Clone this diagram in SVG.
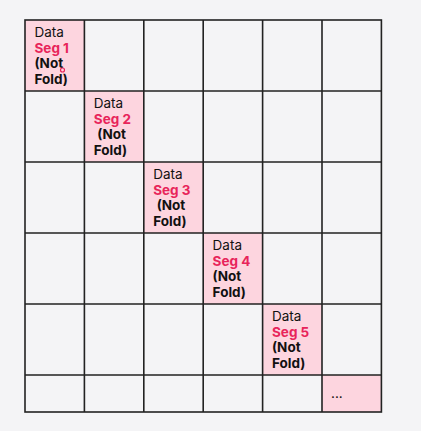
<svg xmlns="http://www.w3.org/2000/svg" width="421" height="431" viewBox="0 0 421 431">
<style>
.bg{fill:#f4f4f6}
.pink{fill:#fdd5df}
.t{font-family:Inter,"Liberation Sans",sans-serif;font-size:13.5px;fill:#111}
.r{font-weight:bold;fill:#e8245a}
.b{font-weight:bold}
.grid{stroke:#222;stroke-width:1.6;fill:none}
</style>
<rect class="bg" x="0" y="0" width="421" height="431"/>
<g id="cells">
<rect id="c1" class="pink" x="25" y="20" width="59.4" height="71"/>
<rect id="c2" class="pink" x="84.4" y="91" width="59.4" height="71"/>
<rect id="c3" class="pink" x="143.8" y="162" width="59.4" height="71"/>
<rect id="c4" class="pink" x="203.2" y="233" width="59.4" height="71"/>
<rect id="c5" class="pink" x="262.6" y="304" width="59.4" height="71"/>
<rect id="c6" class="pink" x="322" y="375" width="59.4" height="37"/>
</g>
<g id="grid" class="grid">
<rect x="25" y="20" width="356.4" height="392"/>
<path d="M84.4 20V412M143.8 20V412M203.2 20V412M262.6 20V412M322 20V412M25 91H381.4M25 162H381.4M25 233H381.4M25 304H381.4M25 375H381.4"/>
</g>
<g id="seg1" class="t">
<text x="34.5" y="37">Data</text>
<text x="34.5" y="52.5" class="r">Seg 1</text>
<text x="34.5" y="68" class="b">(Not</text>
<text x="34.5" y="83.5" class="b">Fold)</text>
</g>
<g id="seg2" class="t">
<text x="93.8" y="108">Data</text>
<text x="93.8" y="123.5" class="r">Seg 2</text>
<text x="97.3" y="139" class="b">(Not</text>
<text x="93.8" y="154.5" class="b">Fold)</text>
</g>
<g id="seg3" class="t">
<text x="153.2" y="179">Data</text>
<text x="153.2" y="194.5" class="r">Seg 3</text>
<text x="156.7" y="210" class="b">(Not</text>
<text x="153.2" y="225.5" class="b">Fold)</text>
</g>
<g id="seg4" class="t">
<text x="212.6" y="250">Data</text>
<text x="212.6" y="265.5" class="r">Seg 4</text>
<text x="212.6" y="281" class="b">(Not</text>
<text x="212.6" y="296.5" class="b">Fold)</text>
</g>
<g id="seg5" class="t">
<text x="272" y="321">Data</text>
<text x="272" y="336.5" class="r">Seg 5</text>
<text x="272" y="352" class="b">(Not</text>
<text x="272" y="367.5" class="b">Fold)</text>
</g>
<g id="more" class="t">
<text x="331" y="398">...</text>
</g>
<circle cx="62.5" cy="70" r="2" fill="none" stroke="#e8245a" stroke-width="1.2"/>
</svg>
